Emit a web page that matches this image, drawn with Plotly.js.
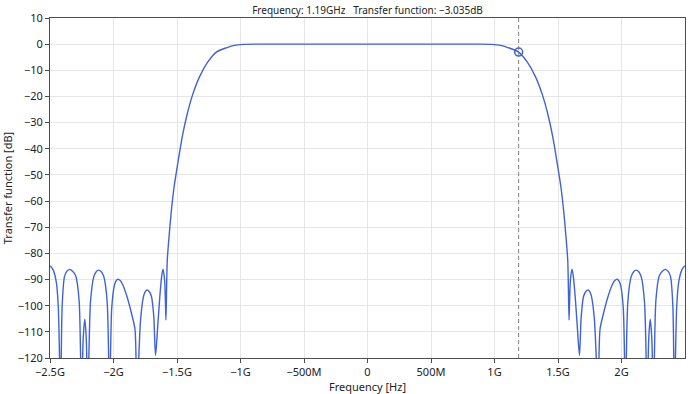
<!DOCTYPE html>
<html><head><meta charset="utf-8">
<script src="https://cdn.plot.ly/plotly-3.0.1.min.js"></script>
<style>html,body{margin:0;padding:0;background:#fff;} #chart{width:690px;height:394px;}</style>
</head><body><div id="chart"></div>
<script>
// Frequency (GHz) and transfer function (dB)
const freqGHz = [
 -2.5, -2.49, -2.476, -2.451, -2.435, -2.417, -2.404, -2.386, -2.368, -2.346, -2.322, -2.297, -2.271, -2.252,
 -2.238, -2.226, -2.215, -2.202, -2.181, -2.155, -2.136, -2.116, -2.096, -2.076, -2.050, -2.031, -2.014,
 -1.994, -1.982, -1.966, -1.947, -1.929, -1.894, -1.858, -1.831, -1.816, -1.787, -1.764, -1.752, -1.737,
 -1.719, -1.701, -1.683, -1.669, -1.652, -1.636, -1.620, -1.610, -1.598, -1.592, -1.587, -1.577, -1.565,
 -1.547, -1.524, -1.492, -1.457, -1.421, -1.378, -1.323, -1.260, -1.19, -1.106, -1.047, -0.976, -0.9,
 -0.5, 0, 0.5,
 0.9, 0.976, 1.047, 1.106, 1.19, 1.260, 1.323, 1.378, 1.421, 1.457, 1.492, 1.524, 1.547, 1.565, 1.577,
 1.587, 1.592, 1.598, 1.610, 1.620, 1.636, 1.652, 1.669, 1.683, 1.701, 1.719, 1.737, 1.752, 1.764, 1.787,
 1.816, 1.831, 1.858, 1.894, 1.929, 1.947, 1.966, 1.982, 1.994, 2.014, 2.031, 2.050, 2.076, 2.096, 2.116,
 2.136, 2.155, 2.181, 2.202, 2.215, 2.226, 2.238, 2.252, 2.271, 2.297, 2.322, 2.346, 2.368, 2.386, 2.404,
 2.417, 2.435, 2.451, 2.476, 2.49, 2.5
];
const transferDb = [
 -84.8, -85.2, -86.2, -90.8, -100, -135, -99.7, -88.9, -86.9, -86.1, -86.8, -88.6, -97.8, -135,
 -112, -105.2, -112, -135, -98.5, -88.9, -87.0, -86.4, -87.0, -88.9, -98.5, -135, -101,
 -92.4, -90.7, -89.9, -90.4, -91.8, -96.5, -103, -109, -135, -105.5, -96.5, -94.8, -94.0,
 -94.6, -96.5, -104, -119, -108, -97, -88.5, -86, -90, -97, -105.5, -83, -75,
 -65, -55, -45, -35, -27, -19.5, -12.5, -7.0, -3.035, -1.3, -0.45, -0.1, 0,
 0, 0, 0,
 0, -0.1, -0.45, -1.3, -3.035, -7.0, -12.5, -19.5, -27, -35, -45, -55, -65, -75, -83,
 -105.5, -97, -90, -86, -88.5, -97, -108, -119, -104, -96.5, -94.6, -94.0, -94.8, -96.5, -105.5,
 -135, -109, -103, -96.5, -91.8, -90.4, -89.9, -90.7, -92.4, -101, -135, -98.5, -88.9, -87.0, -86.4,
 -87.0, -88.9, -98.5, -135, -112, -105.2, -112, -135, -97.8, -88.6, -86.8, -86.1, -86.9, -88.9, -99.7,
 -135, -100, -90.8, -86.2, -85.2, -84.8
];
const xTickVals = [-2.5, -2, -1.5, -1, -0.5, 0, 0.5, 1, 1.5, 2];
const xTickText = ['\u22122.5G', '\u22122G', '\u22121.5G', '\u22121G', '\u2212500M', '0', '500M', '1G', '1.5G', '2G'];
const yTickVals = [10, 0, -10, -20, -30, -40, -50, -60, -70, -80, -90, -100, -110, -120];
const yTickText = ['10', '0', '\u221210', '\u221220', '\u221230', '\u221240', '\u221250', '\u221260', '\u221270', '\u221280', '\u221290', '\u2212100', '\u2212110', '\u2212120'];
const cursorFreqGHz = 1.19;
const cursorDb = -3.035;
const cursorFreqLabel = '1.19GHz';
const cursorDbLabel = '\u22123.035dB';

const FONT = 'Noto Sans, Open Sans, sans-serif';
const lineColor = '#3f63d6';

const traces = [
  {x: freqGHz, y: transferDb, type: 'scatter', mode: 'lines',
   line: {color: lineColor, width: 1.4, shape: 'spline', smoothing: 0.8}, hoverinfo: 'skip', showlegend: false},
  {x: [cursorFreqGHz], y: [cursorDb], type: 'scatter', mode: 'markers',
   marker: {symbol: 'circle-open', size: 8, color: lineColor, line: {width: 1.5, color: lineColor}},
   showlegend: false, cliponaxis: false}
];

const axisCommon = {
  showline: true, mirror: true, linecolor: '#4d4d4d', linewidth: 1,
  ticks: 'outside', ticklen: 4, tickcolor: '#4d4d4d', tickwidth: 1,
  showgrid: true, gridcolor: '#e6e6e6', gridwidth: 1, zeroline: false,
  tickfont: {family: FONT, size: 11, color: '#222'}
};

const layout = {
  width: 690, height: 394,
  margin: {l: 50, r: 5, t: 18, b: 36},
  paper_bgcolor: '#ffffff', plot_bgcolor: '#ffffff',
  font: {family: FONT, size: 11, color: '#222'},
  title: {text: 'Frequency: ' + cursorFreqLabel + '\u00a0\u00a0\u00a0Transfer function: ' + cursorDbLabel,
          font: {family: FONT, size: 10, color: '#222'},
          x: 0.5, xref: 'paper', xanchor: 'center', y: 0.974, yref: 'container', yanchor: 'middle'},
  xaxis: Object.assign({}, axisCommon, {
    range: [-2.5, 2.5], tickmode: 'array', tickvals: xTickVals, ticktext: xTickText,
    title: {text: 'Frequency [Hz]', font: {family: FONT, size: 11, color: '#222'}, standoff: 5}
  }),
  yaxis: Object.assign({}, axisCommon, {
    range: [-120, 10], tickmode: 'array', tickvals: yTickVals, ticktext: yTickText,
    title: {text: 'Transfer function [dB]', font: {family: FONT, size: 11, color: '#222'}, standoff: 4}
  }),
  shapes: [{type: 'line', xref: 'x', yref: 'paper', x0: cursorFreqGHz, x1: cursorFreqGHz, y0: 0, y1: 1,
            line: {color: '#808080', width: 1, dash: '4px,3px'}, layer: 'above'}]
};

Plotly.newPlot('chart', traces, layout, {displayModeBar: false, staticPlot: true});
</script>
</body></html>
